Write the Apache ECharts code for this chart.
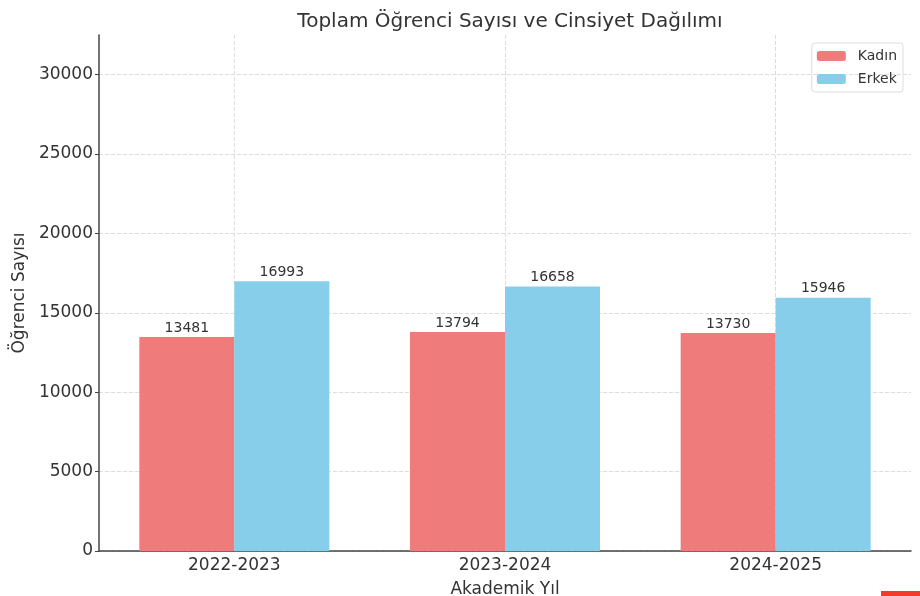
<!DOCTYPE html>
<html lang="tr">
<head>
    <meta charset="UTF-8">
    <title>Toplam Öğrenci Sayısı ve Cinsiyet Dağılımı</title>
    <script src="https://cdn.jsdelivr.net/npm/echarts@6/dist/echarts.min.js"></script>
    <style>
        body { margin: 0; background: #fff; }
        #chart { width: 920px; height: 596px; }
    </style>
</head>
<body>
<div id="chart"></div>
<script>
const years = ['2022-2023', '2023-2024', '2024-2025'];
const kadin = [13481, 13794, 13730];
const erkek = [16993, 16658, 15946];
const yTicks = [0, 5000, 10000, 15000, 20000, 25000, 30000];

const font = 'DejaVu Sans';
const chart = echarts.init(document.getElementById('chart'));

const valueLabel = { show: true, position: 'top', distance: 2, color: '#333', fontSize: 14, fontFamily: font };

// helper axis in half-band units: category centres sit at 1, 3, 5
const centreTicks = years.map((y, i) => 2 * i + 1);

chart.setOption({
    backgroundColor: '#fff',
    animation: false,
    title: {
        text: 'Toplam Öğrenci Sayısı ve Cinsiyet Dağılımı',
        left: 505, top: 7, textAlign: 'center',
        textStyle: { color: '#333', fontSize: 20, fontWeight: 'normal', fontFamily: font }
    },
    legend: {
        orient: 'vertical', right: 17, top: 43,
        itemWidth: 29, itemHeight: 10, itemGap: 9,
        padding: [6, 6, 6, 5],
        borderColor: '#ddd', borderWidth: 1, borderRadius: 3,
        textStyle: { color: '#333', fontSize: 14, fontFamily: font, padding: [0, 0, 0, 7] },
        data: ['Kadın', 'Erkek']
    },
    grid: { left: 99, right: 9, top: 35, bottom: 45, outerBoundsMode: 'none', containLabel: false },
    xAxis: [{
        type: 'category', data: years,
        name: 'Akademik Yıl', nameLocation: 'middle', nameGap: 30,
        nameTextStyle: { color: '#333', fontSize: 17, fontFamily: font },
        axisLine: { lineStyle: { color: '#444', width: 1.5 } },
        axisTick: { alignWithLabel: true, length: 4, lineStyle: { color: '#444' } },
        axisLabel: { color: '#333', fontSize: 17, fontFamily: font, margin: 6 },
        splitLine: { show: false }
    }, {
        type: 'value', min: 0, max: 2 * years.length, position: 'bottom',
        axisLine: { show: false },
        axisTick: { show: false, customValues: centreTicks },
        axisLabel: { show: false, customValues: centreTicks },
        splitLine: { show: true, lineStyle: { color: '#ddd', type: 'dashed' } }
    }],
    yAxis: {
        type: 'value', min: 0, max: 32500, interval: 5000,
        name: 'Öğrenci Sayısı', nameLocation: 'middle', nameGap: 66,
        nameTextStyle: { color: '#333', fontSize: 17, fontFamily: font },
        axisLine: { show: true, lineStyle: { color: '#444', width: 1.5 } },
        axisTick: { show: true, length: 4, customValues: yTicks, lineStyle: { color: '#444' } },
        axisLabel: { color: '#333', fontSize: 17, fontFamily: font, margin: 6, customValues: yTicks,
            formatter: v => String(v) },
        splitLine: { show: true, lineStyle: { color: '#ddd', type: 'dashed' } }
    },
    series: [
        { name: 'Kadın', type: 'bar', data: kadin, barWidth: 95, barGap: '0%',
          itemStyle: { color: '#ef7b7b' }, label: valueLabel },
        { name: 'Erkek', type: 'bar', data: erkek, barWidth: 95,
          itemStyle: { color: '#87ceeb' }, label: valueLabel }
    ],
    graphic: [
        { type: 'rect', left: 881, top: 591, shape: { width: 39, height: 5 }, style: { fill: '#f43a2a' } }
    ]
});
</script>
</body>
</html>
